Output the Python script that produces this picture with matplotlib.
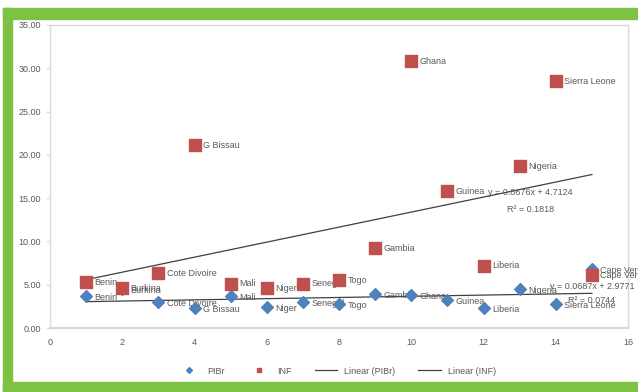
import numpy as np
import matplotlib.pyplot as plt
from matplotlib.patches import Rectangle
from matplotlib.lines import Line2D

plt.rcParams['font.family'] = ['Liberation Sans', 'DejaVu Sans']

# country order on the x axis (1..15)
countries = ["Benin", "Burkina", "Cote Divoire", "G Bissau", "Mali", "Niger", "Senegal",
             "Togo", "Gambia", "Ghana", "Guinea", "Liberia", "Nigeria", "Sierra Leone", "Cape Verde"]
x_pos = np.arange(1, 16)

pibr = [3.7, 4.5, 3.0, 2.3, 3.7, 2.45, 3.0, 2.8, 3.9, 3.8, 3.2, 2.3, 4.5, 2.8, 6.8]
inf = [5.3, 4.6, 6.35, 21.1, 5.1, 4.6, 5.1, 5.5, 9.2, 30.8, 15.8, 7.2, 18.7, 28.5, 6.1]

# linear trend coefficients (slope, intercept, r2)
trend_pibr = (0.0687, 2.9771, 0.0744)
trend_inf = (0.8676, 4.7124, 0.1818)

blue = '#4F81BD'
red = '#C0504D'
grey = '#595959'

fig = plt.figure(figsize=(6.38, 3.92), dpi=100)
ax = fig.add_axes([50 / 638, 1 - 328 / 392, 578 / 638, 303 / 392])

ax.scatter(x_pos, pibr, marker='D', s=36, color=blue, zorder=4, label='PIBr')
ax.scatter(x_pos, inf, marker='s', s=64, color=red, zorder=5, label='INF')

for xi, name, yp, yi in zip(x_pos, countries, pibr, inf):
    ax.annotate(name, (xi, yp), xytext=(6, -1), textcoords='offset points',
                va='center', ha='left', fontsize=6.5, color=grey, zorder=3, annotation_clip=False)
    ax.annotate(name, (xi, yi), xytext=(6, 0), textcoords='offset points',
                va='center', ha='left', fontsize=6.5, color=grey, zorder=3, annotation_clip=False)

xt = np.array([1, 15])
for (m, b, r2) in (trend_pibr, trend_inf):
    ax.plot(xt, m * xt + b, color='#404040', lw=0.9, zorder=2)

ax.text(13.3, 15.6, f"y = {trend_inf[0]}x + {trend_inf[1]}", fontsize=6.5, color=grey,
        ha='center', va='center', zorder=6)
ax.text(13.3, 13.7, f"R² = {trend_inf[2]}", fontsize=6.5, color=grey,
        ha='center', va='center', zorder=6)
ax.text(15.0, 4.8, f"y = {trend_pibr[0]}x + {trend_pibr[1]}", fontsize=6.5, color=grey,
        ha='center', va='center', zorder=6, clip_on=False)
ax.text(15.0, 3.2, f"R² = {trend_pibr[2]}", fontsize=6.5, color=grey,
        ha='center', va='center', zorder=6)

ax.set_xlim(0, 16)
ax.set_ylim(0, 35)
ax.set_xticks(np.arange(0, 17, 2))
ax.set_yticks(np.arange(0, 36, 5))
ax.set_yticklabels([f"{v:.2f}" for v in np.arange(0, 36, 5)])
ax.tick_params(axis='both', labelsize=6.5, colors=grey, length=3, width=0.8)
ax.tick_params(axis='x', length=0, pad=7)
ax.tick_params(axis='y', color='#D9D9D9')
for sp in ax.spines.values():
    sp.set_color('#D9D9D9')
    sp.set_linewidth(1.0)
ax.spines['bottom'].set_linewidth(1.6)

handles = [
    Line2D([], [], marker='D', color=blue, ls='none', markersize=3),
    Line2D([], [], marker='s', color=red, ls='none', markersize=3.5),
    Line2D([], [], color='#404040', lw=0.9),
    Line2D([], [], color='#404040', lw=0.9),
]
fig.legend(handles, ['PIBr', 'INF', 'Linear (PIBr)', 'Linear (INF)'], loc='center',
           bbox_to_anchor=(337 / 638, 1 - 371 / 392), ncol=4, frameon=False,
           fontsize=6.5, labelcolor=grey, handlelength=2.5, columnspacing=2.5, handletextpad=0.8)

# green frame around the chart
green = '#7DC242'
fig.patches.append(Rectangle((3 / 638, 0), 9 / 638, 1 - 8 / 392, transform=fig.transFigure, color=green))
fig.patches.append(Rectangle((3 / 638, 1 - 19 / 392), 1, 11 / 392, transform=fig.transFigure, color=green))
fig.patches.append(Rectangle((3 / 638, 0), 1, 10 / 392, transform=fig.transFigure, color=green))

fig.savefig('out.png', dpi=100)
